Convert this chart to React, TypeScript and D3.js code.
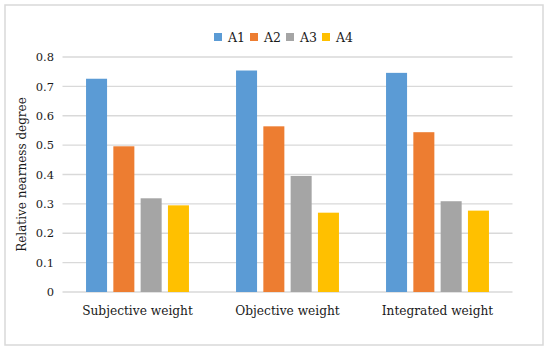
import * as d3 from "d3";
import { useEffect, useRef } from "react";

const categories = ["Subjective weight", "Objective weight", "Integrated weight"];
const seriesNames = ["A1", "A2", "A3", "A4"];
const a1 = [0.726, 0.754, 0.746];
const a2 = [0.496, 0.564, 0.544];
const a3 = [0.319, 0.395, 0.309];
const a4 = [0.295, 0.27, 0.277];
const yTicks = [0, 0.1, 0.2, 0.3, 0.4, 0.5, 0.6, 0.7, 0.8];
const colors = ["#5B9BD5", "#ED7D31", "#A5A5A5", "#FFC000"];

const W = 550;
const H = 352;
const FONT = "'DejaVu Serif', serif";
const TEXT = "#1a1a1a";

export default function App() {
  const svgRef = useRef<SVGSVGElement | null>(null);

  useEffect(() => {
    const svg = d3.select(svgRef.current);
    svg.selectAll("*").remove();

    const margin = { top: 57, right: 37.5, bottom: 60, left: 62.5 };
    const values = [a1, a2, a3, a4];

    // background + outer frame
    svg.append("rect").attr("width", W).attr("height", H).attr("fill", "#fff");
    svg.append("rect")
      .attr("x", 5).attr("y", 5)
      .attr("width", 538).attr("height", 340)
      .attr("fill", "none")
      .attr("stroke", "#d9d9d9")
      .attr("stroke-width", 1.5);

    const x0 = d3.scaleBand()
      .domain(categories)
      .range([margin.left, W - margin.right])
      .padding(0);

    const y = d3.scaleLinear()
      .domain([0, 0.8])
      .range([292, margin.top]);

    // gridlines
    svg.append("g")
      .selectAll("line")
      .data(yTicks)
      .join("line")
      .attr("x1", margin.left)
      .attr("x2", W - margin.right)
      .attr("y1", d => y(d))
      .attr("y2", d => y(d))
      .attr("stroke", "#d9d9d9")
      .attr("stroke-width", 1.3);

    // y tick labels
    svg.append("g")
      .selectAll("text")
      .data(yTicks)
      .join("text")
      .attr("x", 54)
      .attr("y", d => y(d))
      .attr("dy", "0.36em")
      .attr("text-anchor", "end")
      .attr("font-family", FONT)
      .attr("font-size", 11.5)
      .attr("fill", TEXT)
      .text(d => (d === 0 ? "0" : d3.format(".1f")(d)));

    // bars
    const groups = svg.append("g")
      .selectAll("g")
      .data(categories)
      .join("g");

    groups.each(function (cat, ci) {
      const c = (x0(cat) ?? 0) + x0.bandwidth() / 2;
      const x1 = d3.scaleBand()
        .domain(seriesNames)
        .range([c - 54.6, c + 54.6])
        .paddingInner(0.23)
        .paddingOuter(0.115);
      d3.select(this)
        .selectAll("rect")
        .data(seriesNames.map((s, si) => ({ s, si, v: values[si][ci] })))
        .join("rect")
        .attr("x", d => x1(d.s) ?? 0)
        .attr("width", x1.bandwidth())
        .attr("y", d => y(d.v))
        .attr("height", d => y(0) - y(d.v))
        .attr("fill", d => colors[d.si]);
    });

    // category labels
    svg.append("g")
      .selectAll("text")
      .data(categories)
      .join("text")
      .attr("x", d => (x0(d) ?? 0) + x0.bandwidth() / 2)
      .attr("y", 315)
      .attr("text-anchor", "middle")
      .attr("font-family", FONT)
      .attr("font-size", 12.2)
      .attr("fill", TEXT)
      .text(d => d);

    // y axis title
    svg.append("text")
      .attr("transform", "translate(26,174.5) rotate(-90)")
      .attr("text-anchor", "middle")
      .attr("font-family", FONT)
      .attr("font-size", 12)
      .attr("fill", TEXT)
      .text("Relative nearness degree");

    // legend
    const legend = svg.append("g")
      .selectAll("g")
      .data(seriesNames)
      .join("g")
      .attr("transform", (d, i) => `translate(${214 + i * 36},0)`);
    legend.append("rect")
      .attr("x", 0).attr("y", 33)
      .attr("width", 8).attr("height", 8)
      .attr("fill", (d, i) => colors[i]);
    legend.append("text")
      .attr("x", 14)
      .attr("y", 41.5)
      .attr("font-family", FONT)
      .attr("font-size", 12.5)
      .attr("fill", TEXT)
      .text(d => d);
  }, []);

  return (
    <svg
      ref={svgRef}
      width={W}
      height={H}
      style={{ position: "absolute", left: 0, top: 0, display: "block" }}
    />
  );
}
